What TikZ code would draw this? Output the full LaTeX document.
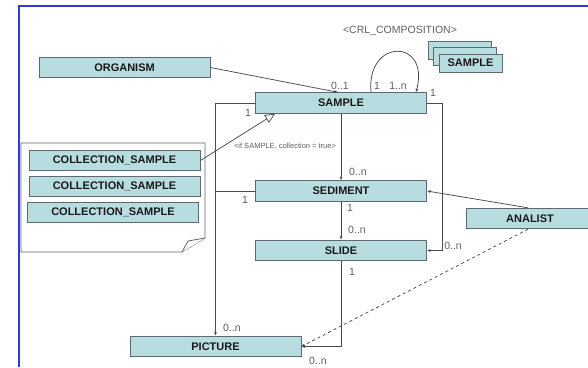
\documentclass[tikz,border=0pt]{standalone}
\usepackage{fontspec}
\setmainfont{Liberation Sans}
\usepackage{xcolor}
\usepackage{tikz}
\usetikzlibrary{arrows.meta,positioning,calc}
\definecolor{clsfill}{RGB}{184,221,225}
\definecolor{clsdraw}{RGB}{95,105,108}
\definecolor{linegray}{RGB}{75,75,75}
\definecolor{labgray}{RGB}{95,95,95}
\definecolor{frameblue}{RGB}{55,55,215}

\begin{document}
\begin{tikzpicture}[
    x=1pt, y=-1pt,
    >={Latex[length=3.5pt,width=3pt]},
    cls/.style={draw=clsdraw, fill=clsfill, line width=0.9pt, inner sep=0pt, minimum width=171pt, minimum height=20.5pt, font=\fontsize{11}{13}\selectfont\bfseries, text=black!90},
    stackbox/.style={cls, minimum width=63pt, minimum height=18pt},
    mult/.style={font=\fontsize{10.5}{12}\selectfont, text=labgray, inner sep=0pt},
    assoc/.style={draw=linegray, line width=0.75pt},
    gen/.style={assoc, -{Triangle[open,fill=white,length=10pt,width=9pt]}},
    notebox/.style={draw=clsdraw, line width=0.8pt, fill=white},
    framebox/.style={draw=frameblue, line width=2pt}
]
\useasboundingbox[fill=white] (0,0) rectangle (588,367);
\draw[framebox] (18.5,367) -- (18.5,6) -- (588,6);

% classes
\node[cls] (organism) at (124.5,67.5) {ORGANISM};
\node[cls] (sample) at (341,103) {SAMPLE};
\node[cls] (sediment) at (341,191) {SEDIMENT};
\node[cls] (slide) at (341,250.5) {SLIDE};
\node[cls] (picture) at (215.5,346.5) {PICTURE};
\node[cls, minimum width=128pt] (analist) at (530,218.5) {ANALIST};

% composition stack
\node[stackbox] (stackc) at (459.5,50.5) {};
\node[stackbox] (stackb) at (465,56.5) {};
\node[stackbox] (stacka) at (470.5,63) {SAMPLE};
\node[mult] (crl) at (400,31) {<CRL\_COMPOSITION>};

% note with collection samples
\draw[notebox] (21,143) -- (205,143) -- (205,238) -- (182,252) -- (21,252) -- cycle;
\draw[notebox] (182,252) -- (188,241) -- (205,238);
\node[cls] (coll1) at (114.5,160.5) {COLLECTION\_SAMPLE};
\node[cls] (coll2) at (114.5,186.5) {COLLECTION\_SAMPLE};
\node[cls] (coll3) at (113,212.5) {COLLECTION\_SAMPLE};

% associations
\draw[assoc, ->] (organism.east) -- ([xshift=-3pt]sample.north);
\draw[assoc, ->] ([xshift=30pt]sample.north) .. controls (366,38) and (430,38) .. ([xshift=75pt]sample.north);
\draw[assoc, ->] (sample.east) -- ++(15,0) |- (slide.east);
\draw[assoc, ->] (sample.south) -- (sediment.north);
\draw[assoc, ->] (sediment.south) -- (slide.north);
\draw[assoc, ->] (slide.south) |- (picture.east);
\draw[assoc, ->] (sample.west) -| (picture.north);
\draw[assoc] (sediment.west) -- (sediment.west -| picture.north);
\draw[assoc, ->] ([xshift=-2pt]analist.north) -- (sediment.east);
\draw[assoc, ->, dashed] ([xshift=-2pt]analist.south) -- (picture.east);
\draw[gen] (coll1.east) -- ([xshift=-66pt]sample.south);

% multiplicities
\node[mult] (m1) at (340,86) {0..1};
\node[mult] (m2) at (377,86) {1};
\node[mult] (m3) at (398,86) {1..n};
\node[mult] (m4) at (433,93) {1};
\node[mult] (m5) at (248,113) {1};
\node[mult] (m6) at (358,172) {0..n};
\node[mult] (m7) at (350,208) {1};
\node[mult] (m8) at (357,230) {0..n};
\node[mult] (m9) at (453,246) {0..n};
\node[mult] (m10) at (245,200) {1};
\node[mult] (m11) at (352,272) {1};
\node[mult] (m12) at (232,328) {0..n};
\node[mult] (m13) at (318,361) {0..n};
\node[mult, font=\fontsize{7.5}{9}\selectfont] (cond) at (285,146) {<if SAMPLE. collection = true>};
\end{tikzpicture}
\end{document}
